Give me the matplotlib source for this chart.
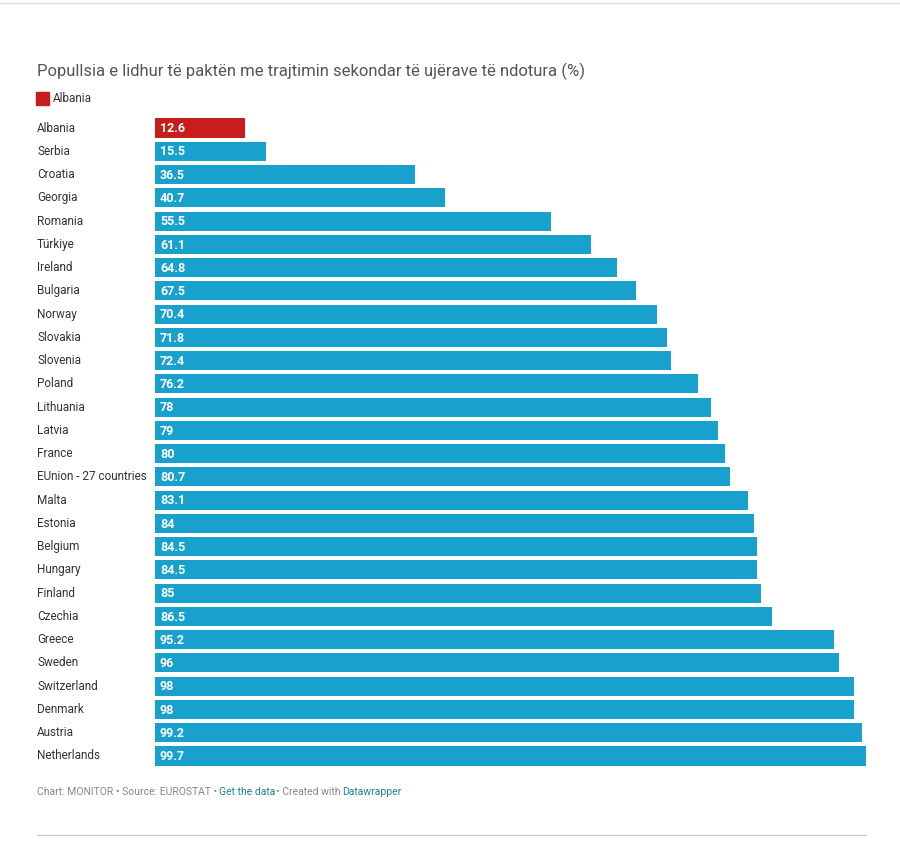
import matplotlib.pyplot as plt
from matplotlib.patches import Rectangle
from matplotlib.lines import Line2D

countries = ["Albania", "Serbia", "Croatia", "Georgia", "Romania", "Türkiye",
             "Ireland", "Bulgaria", "Norway", "Slovakia", "Slovenia", "Poland",
             "Lithuania", "Latvia", "France", "EUnion - 27 countries", "Malta",
             "Estonia", "Belgium", "Hungary", "Finland", "Czechia", "Greece",
             "Sweden", "Switzerland", "Denmark", "Austria", "Netherlands"]
values = [12.6, 15.5, 36.5, 40.7, 55.5, 61.1, 64.8, 67.5, 70.4, 71.8, 72.4,
          76.2, 78, 79, 80, 80.7, 83.1, 84, 84.5, 84.5, 85, 86.5, 95.2, 96,
          98, 98, 99.2, 99.7]
value_labels = ["12.6", "15.5", "36.5", "40.7", "55.5", "61.1", "64.8", "67.5",
                "70.4", "71.8", "72.4", "76.2", "78", "79", "80", "80.7", "83.1",
                "84", "84.5", "84.5", "85", "86.5", "95.2", "96", "98", "98",
                "99.2", "99.7"]
highlight = "Albania"

title = "Popullsia e lidhur të paktën me trajtimin sekondar të ujërave të ndotura (%)"

RED = "#c71e1d"
BLUE = "#18a1cd"
W, H = 900, 850

plt.rcParams['font.family'] = ['Roboto', 'DejaVu Sans']

fig = plt.figure(figsize=(9, 8.5), dpi=100)
fig.patch.set_facecolor("white")

n = len(countries)
top_px = 128 - 11.6
bot_px = 756 + 11.6
row = (bot_px - top_px) / n
ax = fig.add_axes([155 / W, 1 - bot_px / H, (868 - 155) / W, (bot_px - top_px) / H])
ax.set_xlim(0, 100)
ax.set_ylim(n - 0.5, -0.5)
ax.axis("off")

colors = [RED if c == highlight else BLUE for c in countries]
ypos = list(range(n))
ax.barh(ypos, values, height=0.82, color=colors)

for y, lab, name in zip(ypos, value_labels, countries):
    ax.text(0.7, y + 0.03, lab, color="white", fontsize=9, fontweight="bold",
            va="center", ha="left")
    ax.text(37 / W, 1 - (top_px + row * (y + 0.5)) / H, name, transform=fig.transFigure,
            fontsize=8.5, color="#333333", va="center", ha="left")

# title and legend
fig.text(37 / W, 1 - 71 / H, title, fontsize=12, color="#555555", va="center")
fig.patches.append(Rectangle((36 / W, 1 - 105 / H), 13 / W, 13 / H,
                             transform=fig.transFigure, color=RED))
fig.text(53 / W, 1 - 99 / H, highlight, fontsize=8.5, color="#333333", va="center")

# footer
fy = 1 - 792 / H
parts = [("Chart: MONITOR • Source: EUROSTAT •", "#888888"),
         ("Get the data", "#1d81a2"),
         ("• Created with", "#888888"),
         ("Datawrapper", "#1d81a2")]
fig.canvas.draw()
renderer = fig.canvas.get_renderer()
x = 37 / W
for txt, col in parts:
    t = fig.text(x, fy, txt, fontsize=7.5, color=col, va="center")
    bb = t.get_window_extent(renderer=renderer)
    x += (bb.width + 1.5) / W

# separator lines
fig.lines.append(Line2D([0, 1], [1 - 3 / H, 1 - 3 / H], transform=fig.transFigure,
                        color="#dddddd", lw=1))
fig.lines.append(Line2D([37 / W, 866 / W], [1 - 835 / H, 1 - 835 / H],
                        transform=fig.transFigure, color="#cccccc", lw=1))

fig.savefig("out.png", dpi=100, facecolor="white")
